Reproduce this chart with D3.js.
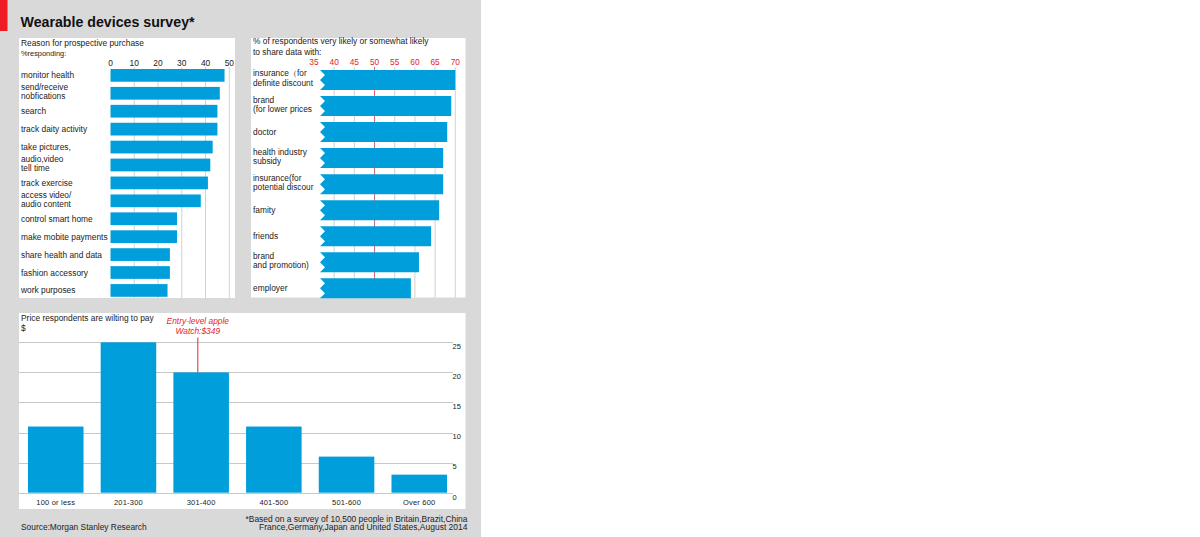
<!DOCTYPE html>
<html>
<head>
<meta charset="utf-8">
<script src="https://cdn.jsdelivr.net/npm/d3@7"></script>
<style>
  html, body { margin: 0; padding: 0; background: #ffffff; }
  svg { display: block; }
  text { font-family: "Liberation Sans", Arial, sans-serif; fill: #222; }
</style>
</head>
<body>
<svg id="chart" width="1200" height="537"></svg>
<script>
// ---------- DATA ----------
const reasonLabels = [
  ["monitor health"], ["send/receive", "nobfications"], ["search"], ["track daity activity"],
  ["take pictures,"], ["audio,video", "tell time"], ["track exercise"], ["access video/", "audio content"],
  ["control smart home"], ["make mobite payments"], ["share health and data"], ["fashion accessory"], ["work purposes"]
];
const reasonValues = [48, 46, 45, 45, 43, 42, 41, 38, 28, 28, 25, 25, 24];
const reasonTicks = [0, 10, 20, 30, 40, 50];

const shareLabels = [
  ["insurance（for", "definite discount"], ["brand", "(for lower prices"], ["doctor"],
  ["health industry", "subsidy"], ["insurance(for", "potential discount"], ["famity"],
  ["friends"], ["brand", "and promotion)"], ["employer"]
];
const shareValues = [70, 69, 68, 67, 67, 66, 64, 61, 59];
const shareTicks = [35, 40, 45, 50, 55, 60, 65, 70];

const priceCats = ["100 or less", "201-300", "301-400", "401-500", "501-600", "Over 600"];
const priceValues = [11, 25, 20, 11, 6, 3];
const priceTicks = [0, 5, 10, 15, 20, 25];

// ---------- STYLE ----------
const BLUE = "#009fdb";
const GRID = "#d2d2d2";
const RED = "#e8232e";
const FS = 8.4;
const FS2 = 8.3; // two-line labels

const svg = d3.select("#chart");

// background
svg.append("rect").attr("x", 0).attr("y", 0).attr("width", 481).attr("height", 537).attr("fill", "#d9d9d9");
svg.append("rect").attr("x", 0).attr("y", 0).attr("width", 7.5).attr("height", 31).attr("fill", "#ee1c25");
svg.append("text").attr("x", 20.5).attr("y", 27).attr("font-size", 14.2).attr("font-weight", "bold")
  .style("fill", "#111").text("Wearable devices survey*");

// ---------- PANEL 1 ----------
const p1 = svg.append("g");
p1.append("rect").attr("x", 19).attr("y", 38).attr("width", 216).attr("height", 260).attr("fill", "#fff");
p1.append("text").attr("x", 21).attr("y", 46).attr("font-size", FS).text("Reason for prospective purchase");
p1.append("text").attr("x", 21).attr("y", 55.5).attr("font-size", 7.4).text("%responding:");

const x1 = d3.scaleLinear().domain([0, 50]).range([110.5, 229.3]);
const y1 = d3.scaleBand().domain(d3.range(reasonValues.length)).range([66.4, 299.4])
  .paddingInner(0.29).paddingOuter(0.145);

p1.selectAll(".g1").data(reasonTicks.filter(d => d > 0)).join("line")
  .attr("x1", d => x1(d)).attr("x2", d => x1(d)).attr("y1", 67).attr("y2", 298)
  .attr("stroke", GRID).attr("stroke-width", 1);
p1.selectAll(".t1").data(reasonTicks).join("text")
  .attr("x", d => x1(d)).attr("y", 65.5).attr("text-anchor", "middle").attr("font-size", FS).text(d => d);

p1.selectAll(".b1").data(reasonValues).join("rect")
  .attr("x", x1(0)).attr("y", (d, i) => y1(i)).attr("width", d => x1(d) - x1(0))
  .attr("height", y1.bandwidth()).attr("fill", BLUE);

reasonLabels.forEach((lines, i) => {
  const cy = y1(i) + y1.bandwidth() / 2;
  if (lines.length === 1) {
    p1.append("text").attr("x", 21).attr("font-size", FS).attr("y", cy + 3).text(lines[0]);
  } else {
    p1.append("text").attr("x", 21).attr("font-size", FS2).attr("y", cy - 3.2).text(lines[0]);
    p1.append("text").attr("x", 21).attr("font-size", FS2).attr("y", cy + 6.1).text(lines[1]);
  }
});

// ---------- PANEL 2 ----------
const p2 = svg.append("g");
p2.append("rect").attr("x", 251).attr("y", 38).attr("width", 214.5).attr("height", 259.5).attr("fill", "#fff");
p2.append("text").attr("x", 253).attr("y", 43.5).attr("font-size", FS).text("% of respondents very likely or somewhat likely");
p2.append("text").attr("x", 253).attr("y", 54.5).attr("font-size", FS).text("to share data with:");

const x2 = d3.scaleLinear().domain([35, 70]).range([314, 455.3]);
const y2 = d3.scaleBand().domain(d3.range(shareValues.length)).range([66.98, 301.3])
  .paddingInner(0.232).paddingOuter(0.116);

p2.selectAll(".g2").data(shareTicks.filter(d => d > 35)).join("line")
  .attr("x1", d => x2(d)).attr("x2", d => x2(d)).attr("y1", 67).attr("y2", 297.5)
  .attr("stroke", d => d === 50 ? "#e0606a" : GRID).attr("stroke-width", 1);
p2.selectAll(".t2").data(shareTicks).join("text")
  .attr("x", d => x2(d)).attr("y", 64.5).attr("text-anchor", "middle").attr("font-size", FS)
  .style("fill", RED).text(d => d);

const barStart = x2(35) + 6;
p2.selectAll(".b2").data(shareValues).join("path")
  .attr("d", (d, i) => {
    const top = y2(i), h = y2.bandwidth(), bot = top + h, end = x2(d);
    return `M${barStart},${top} L${end},${top} L${end},${bot} L${barStart},${bot} ` +
      `L${barStart + 5},${top + h * 0.75} L${barStart},${top + h / 2} L${barStart + 5},${top + h * 0.25} Z`;
  })
  .attr("fill", BLUE);

svg.append("clipPath").attr("id", "lab2clip").append("rect")
  .attr("x", 251).attr("y", 60).attr("width", 62.5).attr("height", 240);
const labG = p2.append("g").attr("clip-path", "url(#lab2clip)");
shareLabels.forEach((lines, i) => {
  const cy = y2(i) + y2.bandwidth() / 2;
  if (lines.length === 1) {
    labG.append("text").attr("x", 253).attr("font-size", FS).attr("y", cy + 3).text(lines[0]);
  } else {
    labG.append("text").attr("x", 253).attr("font-size", FS2).attr("y", cy - 3.5).text(lines[0]);
    labG.append("text").attr("x", 253).attr("font-size", FS2).attr("y", cy + 5.8).text(lines[1]);
  }
});

// ---------- PANEL 3 ----------
const p3 = svg.append("g");
p3.append("rect").attr("x", 19).attr("y", 313).attr("width", 446.5).attr("height", 196).attr("fill", "#fff");
p3.append("text").attr("x", 21).attr("y", 320.5).attr("font-size", FS).text("Price respondents are wilting to pay");
p3.append("text").attr("x", 21).attr("y", 330.5).attr("font-size", FS).text("$");

const y3 = d3.scaleLinear().domain([0, 25]).range([492.7, 342.3]);
const x3 = d3.scaleBand().domain(priceCats).range([19.4, 455.6]).paddingInner(0.236).paddingOuter(0.118);

p3.selectAll(".g3").data(priceTicks).join("line")
  .attr("x1", 19).attr("x2", 453).attr("y1", d => Math.round(y3(d)) + 0.5).attr("y2", d => Math.round(y3(d)) + 0.5)
  .attr("stroke", "#c8c8c8").attr("stroke-width", 1);
p3.selectAll(".t3").data(priceTicks).join("text")
  .attr("x", 452.5).attr("y", d => y3(d) + 6.8).attr("font-size", 7.5).text(d => d);

p3.selectAll(".b3").data(priceValues).join("rect")
  .attr("x", (d, i) => x3(priceCats[i])).attr("y", d => y3(d))
  .attr("width", x3.bandwidth()).attr("height", d => y3(0) - y3(d)).attr("fill", BLUE);

p3.selectAll(".c3").data(priceCats).join("text")
  .attr("x", d => x3(d) + x3.bandwidth() / 2).attr("y", 505.3).attr("text-anchor", "middle")
  .attr("font-size", 7.5).attr("letter-spacing", 0.2).text(d => d);

// annotation
const annX = x3("301-400") + x3.bandwidth() * 0.44;
p3.append("line").attr("x1", annX).attr("x2", annX).attr("y1", 337.5).attr("y2", y3(priceValues[2]))
  .attr("stroke", RED).attr("stroke-width", 1);
p3.append("text").attr("x", annX).attr("y", 324).attr("text-anchor", "middle").attr("font-size", FS)
  .attr("font-style", "italic").style("fill", RED).text("Entry-level apple");
p3.append("text").attr("x", annX).attr("y", 334.3).attr("text-anchor", "middle").attr("font-size", FS)
  .attr("font-style", "italic").style("fill", RED).text("Watch:$349");

// ---------- FOOTER ----------
svg.append("text").attr("x", 21).attr("y", 530).attr("font-size", FS).text("Source:Morgan Stanley Research");
svg.append("text").attr("x", 467.5).attr("y", 522).attr("text-anchor", "end").attr("font-size", FS)
  .attr("textLength", 222).attr("lengthAdjust", "spacingAndGlyphs")
  .text("*Based on a survey of 10,500 people in Britain,Brazit,China");
svg.append("text").attr("x", 467.5).attr("y", 529.8).attr("text-anchor", "end").attr("font-size", FS)
  .attr("textLength", 208.5).attr("lengthAdjust", "spacingAndGlyphs")
  .text("France,Germany,Japan and United States,August 2014");
</script>
</body>
</html>
